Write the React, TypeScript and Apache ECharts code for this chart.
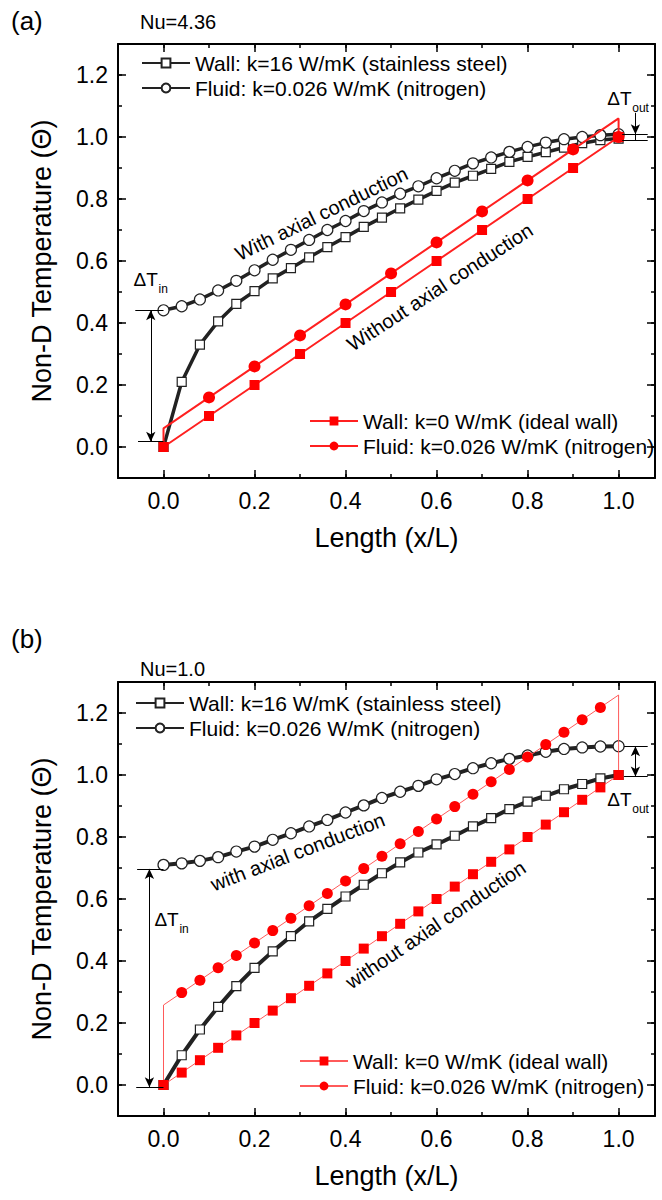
import React, { useEffect, useRef } from "react";
import * as echarts from "echarts";

const FONT = "'Liberation Sans', Arial, Helvetica, sans-serif";

// ---------- Panel (a): Nu = 4.36 ----------
const aX = [0, 0.04, 0.08, 0.12, 0.16, 0.2, 0.24, 0.28, 0.32, 0.36, 0.4, 0.44, 0.48, 0.52, 0.56, 0.6, 0.64, 0.68, 0.72, 0.76, 0.8, 0.84, 0.88, 0.92, 0.96, 1.0];
const aWallK16 = [0, 0.21, 0.33, 0.405, 0.462, 0.503, 0.544, 0.577, 0.612, 0.645, 0.677, 0.71, 0.74, 0.77, 0.798, 0.826, 0.853, 0.875, 0.897, 0.92, 0.936, 0.951, 0.966, 0.98, 0.99, 0.995];
const aFluidK16 = [0.441, 0.454, 0.476, 0.505, 0.536, 0.57, 0.604, 0.636, 0.668, 0.7, 0.729, 0.761, 0.789, 0.817, 0.841, 0.867, 0.891, 0.915, 0.934, 0.952, 0.968, 0.982, 0.993, 1.0, 1.006, 1.009];
const aIdealX = [0, 0.1, 0.2, 0.3, 0.4, 0.5, 0.6, 0.7, 0.8, 0.9, 1.0];
const aIdealWall = [0, 0.1, 0.2, 0.3, 0.4, 0.5, 0.6, 0.7, 0.8, 0.9, 1.0];
const aIdealFluidX = [0, 0, 0.1, 0.2, 0.3, 0.4, 0.5, 0.6, 0.7, 0.8, 0.9, 1.0, 1.0];
const aIdealFluid = [0, 0.06, 0.16, 0.26, 0.36, 0.46, 0.56, 0.66, 0.76, 0.86, 0.96, 1.06, 1.0];
const aIdealFluidMarker = [false, false, true, true, true, true, true, true, true, true, true, false, true];

// ---------- Panel (b): Nu = 1.0 ----------
const bX = [0, 0.04, 0.08, 0.12, 0.16, 0.2, 0.24, 0.28, 0.32, 0.36, 0.4, 0.44, 0.48, 0.52, 0.56, 0.6, 0.64, 0.68, 0.72, 0.76, 0.8, 0.84, 0.88, 0.92, 0.96, 1.0];
const bWallK16 = [0, 0.096, 0.179, 0.252, 0.319, 0.378, 0.431, 0.48, 0.528, 0.568, 0.608, 0.646, 0.683, 0.718, 0.75, 0.776, 0.804, 0.834, 0.861, 0.89, 0.914, 0.933, 0.954, 0.971, 0.989, 1.0];
const bFluidK16 = [0.71, 0.715, 0.723, 0.735, 0.753, 0.769, 0.791, 0.812, 0.834, 0.855, 0.879, 0.902, 0.926, 0.946, 0.965, 0.986, 1.003, 1.022, 1.038, 1.052, 1.063, 1.075, 1.084, 1.089, 1.092, 1.093];
const bIdealWall = [0, 0.04, 0.08, 0.12, 0.16, 0.2, 0.24, 0.28, 0.32, 0.36, 0.4, 0.44, 0.48, 0.52, 0.56, 0.6, 0.64, 0.68, 0.72, 0.76, 0.8, 0.84, 0.88, 0.92, 0.96, 1.0];
const bIdealFluidX = [0, 0, 0.04, 0.08, 0.12, 0.16, 0.2, 0.24, 0.28, 0.32, 0.36, 0.4, 0.44, 0.48, 0.52, 0.56, 0.6, 0.64, 0.68, 0.72, 0.76, 0.8, 0.84, 0.88, 0.92, 0.96, 1.0, 1.0];
const bIdealFluid = [0, 0.258, 0.298, 0.338, 0.378, 0.418, 0.458, 0.498, 0.538, 0.578, 0.618, 0.658, 0.698, 0.738, 0.778, 0.818, 0.858, 0.898, 0.938, 0.978, 1.018, 1.058, 1.098, 1.138, 1.178, 1.218, 1.258, 1.0];

const legendText: Record<string, string> = {
  aW16: "Wall: k=16 W/mK (stainless steel)",
  aF16: "Fluid: k=0.026 W/mK (nitrogen)",
  aW0: "Wall: k=0 W/mK (ideal wall)",
  aF0: "Fluid: k=0.026 W/mK (nitrogen)",
  bW16: "Wall: k=16 W/mK (stainless steel)",
  bF16: "Fluid: k=0.026 W/mK (nitrogen)",
  bW0: "Wall: k=0 W/mK (ideal wall)",
  bF0: "Fluid: k=0.026 W/mK (nitrogen)",
};

const X_MIN = -0.1;
const X_MAX = 1.08;
const Y_MIN = -0.1;
const Y_MAX = 1.3;

const GRID_LEFT = 118;
const GRID_W = 537;
const GRID_H = 434;
const GRID_TOPS = [44, 682];

const TICK_FS = 23;
const TITLE_FS = 27;
const LEGEND_FS = 21;
const NOTE_FS = 20;

const zip = (xs: number[], ys: number[]) => xs.map((x, i) => [x, ys[i]]);

function majorLabel(v: number) {
  return Math.abs(v * 5 - Math.round(v * 5)) < 1e-6 ? v.toFixed(1) : "";
}

function makeXAxes(g: number) {
  const common = { gridIndex: g, type: "value", min: X_MIN, max: X_MAX, splitLine: { show: false } };
  return [
    {
      ...common,
      position: "bottom",
      splitNumber: 5,
      axisLine: { show: true, onZero: false, lineStyle: { color: "#000", width: 2 } },
      axisTick: { show: true, inside: true, length: 8, lineStyle: { color: "#000", width: 1.5 } },
      axisLabel: { formatter: majorLabel, fontSize: TICK_FS, color: "#000", fontFamily: FONT, margin: 11 },
      name: "Length (x/L)",
      nameLocation: "middle",
      nameGap: 46,
      nameTextStyle: { fontSize: TITLE_FS, color: "#000", fontFamily: FONT },
    },
    {
      ...common,
      position: "bottom",
      interval: 0.1,
      axisLine: { show: false, onZero: false },
      axisTick: { show: true, inside: true, length: 4, lineStyle: { color: "#000", width: 1.5 } },
      axisLabel: { show: false },
    },
    {
      ...common,
      position: "top",
      splitNumber: 5,
      axisLine: { show: true, onZero: false, lineStyle: { color: "#000", width: 2 } },
      axisTick: { show: true, inside: true, length: 8, lineStyle: { color: "#000", width: 1.5 } },
      axisLabel: { show: false },
    },
    {
      ...common,
      position: "top",
      interval: 0.1,
      axisLine: { show: false, onZero: false },
      axisTick: { show: true, inside: true, length: 4, lineStyle: { color: "#000", width: 1.5 } },
      axisLabel: { show: false },
    },
  ];
}

function makeYAxes(g: number) {
  const common = { gridIndex: g, type: "value", min: Y_MIN, max: Y_MAX, splitLine: { show: false } };
  return [
    {
      ...common,
      position: "left",
      splitNumber: 7,
      axisLine: { show: true, onZero: false, lineStyle: { color: "#000", width: 2 } },
      axisTick: { show: true, inside: true, length: 8, lineStyle: { color: "#000", width: 1.5 } },
      axisLabel: { formatter: majorLabel, fontSize: TICK_FS, color: "#000", fontFamily: FONT, margin: 10 },
      name: "Non-D Temperature (\u0398)",
      nameLocation: "middle",
      nameGap: 63,
      nameTextStyle: { fontSize: TITLE_FS, color: "#000", fontFamily: FONT },
    },
    {
      ...common,
      position: "left",
      interval: 0.1,
      axisLine: { show: false, onZero: false },
      axisTick: { show: true, inside: true, length: 4, lineStyle: { color: "#000", width: 1.5 } },
      axisLabel: { show: false },
    },
    {
      ...common,
      position: "right",
      splitNumber: 7,
      axisLine: { show: true, onZero: false, lineStyle: { color: "#000", width: 2 } },
      axisTick: { show: true, inside: true, length: 8, lineStyle: { color: "#000", width: 1.5 } },
      axisLabel: { show: false },
    },
    {
      ...common,
      position: "right",
      interval: 0.1,
      axisLine: { show: false, onZero: false },
      axisTick: { show: true, inside: true, length: 4, lineStyle: { color: "#000", width: 1.5 } },
      axisLabel: { show: false },
    },
  ];
}

const arrowLine = (p1: number[], p2: number[], s1: string, s2: string) => [
  { coord: p1, symbol: s1 },
  { coord: p2, symbol: s2 },
];

function blackSeries(name: string, g: number, xs: number[], ys: number[], symbol: string, size: number, width: number, markLines?: any[]) {
  const s: any = {
    name,
    type: "line",
    xAxisIndex: g * 4,
    yAxisIndex: g * 4,
    data: zip(xs, ys),
    symbol,
    symbolSize: size,
    showAllSymbol: true,
    lineStyle: { color: "#222", width },
    itemStyle: { color: "#fff", borderColor: "#222", borderWidth: 1.2 },
    z: 3,
  };
  if (markLines) {
    s.markLine = {
      silent: true,
      symbol: ["none", "none"],
      symbolSize: [7, 10],
      label: { show: false },
      lineStyle: { color: "#000", width: 1, type: "solid" },
      emphasis: { disabled: true },
      animation: false,
      data: markLines,
    };
  }
  return s;
}

function redSeries(name: string, g: number, pts: number[][], markerFlags: boolean[] | null, symbol: string, size: number, lineColor: string, width: number) {
  return {
    name,
    type: "line",
    xAxisIndex: g * 4,
    yAxisIndex: g * 4,
    data: pts.map((p, i) => (markerFlags && !markerFlags[i] ? { value: p, symbol: "none" } : { value: p })),
    symbol,
    symbolSize: size,
    showAllSymbol: true,
    lineStyle: { color: lineColor, width },
    itemStyle: { color: "#ff0000", borderColor: "#ff0000", borderWidth: 0 },
    z: 4,
  };
}

const bIdealFluidMarker = bIdealFluid.map((_, i) => i >= 2 && i <= bIdealFluid.length - 3);

function buildOption() {
  const legendBase = {
    orient: "vertical",
    itemWidth: 48,
    itemHeight: 11,
    itemGap: 3,
    selectedMode: false,
    formatter: (n: string) => legendText[n],
    textStyle: { fontSize: LEGEND_FS, color: "#000", fontFamily: FONT, lineHeight: 22 },
  };
  const tStyle = (fs: number) => ({ fontSize: fs, fontWeight: "normal", color: "#000", fontFamily: FONT });
  return {
    animation: false,
    backgroundColor: "#fff",
    grid: GRID_TOPS.map((t) => ({ left: GRID_LEFT, top: t, width: GRID_W, height: GRID_H })),
    xAxis: [...makeXAxes(0), ...makeXAxes(1)],
    yAxis: [...makeYAxes(0), ...makeYAxes(1)],
    title: [
      { text: "(a)", left: 6, top: 3, textStyle: tStyle(26) },
      { text: "Nu=4.36", left: 135, top: 7, textStyle: tStyle(20) },
      { text: "(b)", left: 6, top: 621, textStyle: tStyle(26) },
      { text: "Nu=1.0", left: 135, top: 654, textStyle: tStyle(20) },
    ],
    legend: [
      { ...legendBase, data: ["aW16", "aF16"], left: 136, top: 47 },
      { ...legendBase, data: ["aW0", "aF0"], left: 304, top: 405 },
      { ...legendBase, data: ["bW16", "bF16"], left: 130, top: 687 },
      { ...legendBase, data: ["bW0", "bF0"], left: 294, top: 1045 },
    ],
    series: [
      blackSeries("aW16", 0, aX, aWallK16, "rect", 9, 3.5),
      blackSeries("aF16", 0, aX, aFluidK16, "circle", 11, 3.5, [
        arrowLine([-0.062, 0.441], [0, 0.441], "none", "none"),
        arrowLine([-0.056, 0.017], [0, 0.017], "none", "none"),
        arrowLine([-0.028, 0.017], [-0.028, 0.441], "arrow", "arrow"),
        arrowLine([1.008, 1.009], [1.064, 1.009], "none", "none"),
        arrowLine([1.008, 0.99], [1.064, 0.99], "none", "none"),
        arrowLine([1.037, 1.078], [1.037, 1.009], "none", "arrow"),
        arrowLine([1.037, 1.009], [1.037, 0.99], "none", "none"),
      ]),
      redSeries("aW0", 0, zip(aIdealX, aIdealWall), null, "rect", 10, "#ff2020", 2),
      redSeries("aF0", 0, zip(aIdealFluidX, aIdealFluid), aIdealFluidMarker, "circle", 12, "#ff2020", 2),
      blackSeries("bW16", 1, bX, bWallK16, "rect", 9, 4),
      blackSeries("bF16", 1, bX, bFluidK16, "circle", 11, 4, [
        arrowLine([-0.058, 0.697], [0, 0.697], "none", "none"),
        arrowLine([-0.06, -0.007], [0, -0.007], "none", "none"),
        arrowLine([-0.031, -0.007], [-0.031, 0.697], "arrow", "arrow"),
        arrowLine([1.012, 1.093], [1.064, 1.093], "none", "none"),
        arrowLine([1.012, 0.995], [1.064, 0.995], "none", "none"),
        arrowLine([1.037, 0.995], [1.037, 1.093], "arrow", "arrow"),
      ]),
      redSeries("bW0", 1, zip(bX, bIdealWall), null, "rect", 10, "#ff5a5a", 1),
      redSeries("bF0", 1, zip(bIdealFluidX, bIdealFluid), bIdealFluidMarker, "circle", 11, "#ff5a5a", 1),
    ],
  };
}

export default function App() {
  const ref = useRef<HTMLDivElement>(null);
  useEffect(() => {
    document.body.style.margin = "0";
    const chart = echarts.init(ref.current!, null, { renderer: "svg" });
    chart.setOption(buildOption() as any);

    const px = (g: number, x: number, y: number) =>
      chart.convertToPixel({ xAxisIndex: g * 4, yAxisIndex: g * 4 } as any, [x, y]) as number[];

    const rotText = (g: number, x: number, y: number, text: string, deg: number) => {
      const p = px(g, x, y);
      return {
        type: "text",
        x: p[0],
        y: p[1],
        rotation: (deg * Math.PI) / 180,
        style: { text, fontSize: NOTE_FS, fontFamily: FONT, fill: "#000", align: "center", verticalAlign: "middle" },
        z: 10,
      };
    };
    const deltaText = (g: number, x: number, y: number, sub: string) => {
      const p = px(g, x, y);
      return {
        type: "group",
        x: p[0],
        y: p[1],
        z: 10,
        children: [
          { type: "text", x: 0, y: 0, style: { text: "\u0394T", fontSize: 19, fontFamily: FONT, fill: "#000", align: "left", verticalAlign: "middle" } },
          { type: "text", x: 25, y: 9, style: { text: sub, fontSize: 12, fontFamily: FONT, fill: "#000", align: "left", verticalAlign: "middle" } },
        ],
      };
    };

    chart.setOption({
      graphic: [
        rotText(0, 0.347, 0.753, "With axial conduction", 26),
        rotText(0, 0.607, 0.516, "Without axial conduction", 33),
        rotText(1, 0.295, 0.752, "with axial conduction", 21),
        rotText(1, 0.598, 0.517, "without axial conduction", 34),
        deltaText(0, -0.066, 0.54, "in"),
        deltaText(0, 0.975, 1.123, "out"),
        deltaText(1, -0.02, 0.533, "in"),
        deltaText(1, 0.975, 0.92, "out"),
      ],
    } as any);

    return () => chart.dispose();
  }, []);
  return <div ref={ref} style={{ width: 662, height: 1200 }} />;
}
